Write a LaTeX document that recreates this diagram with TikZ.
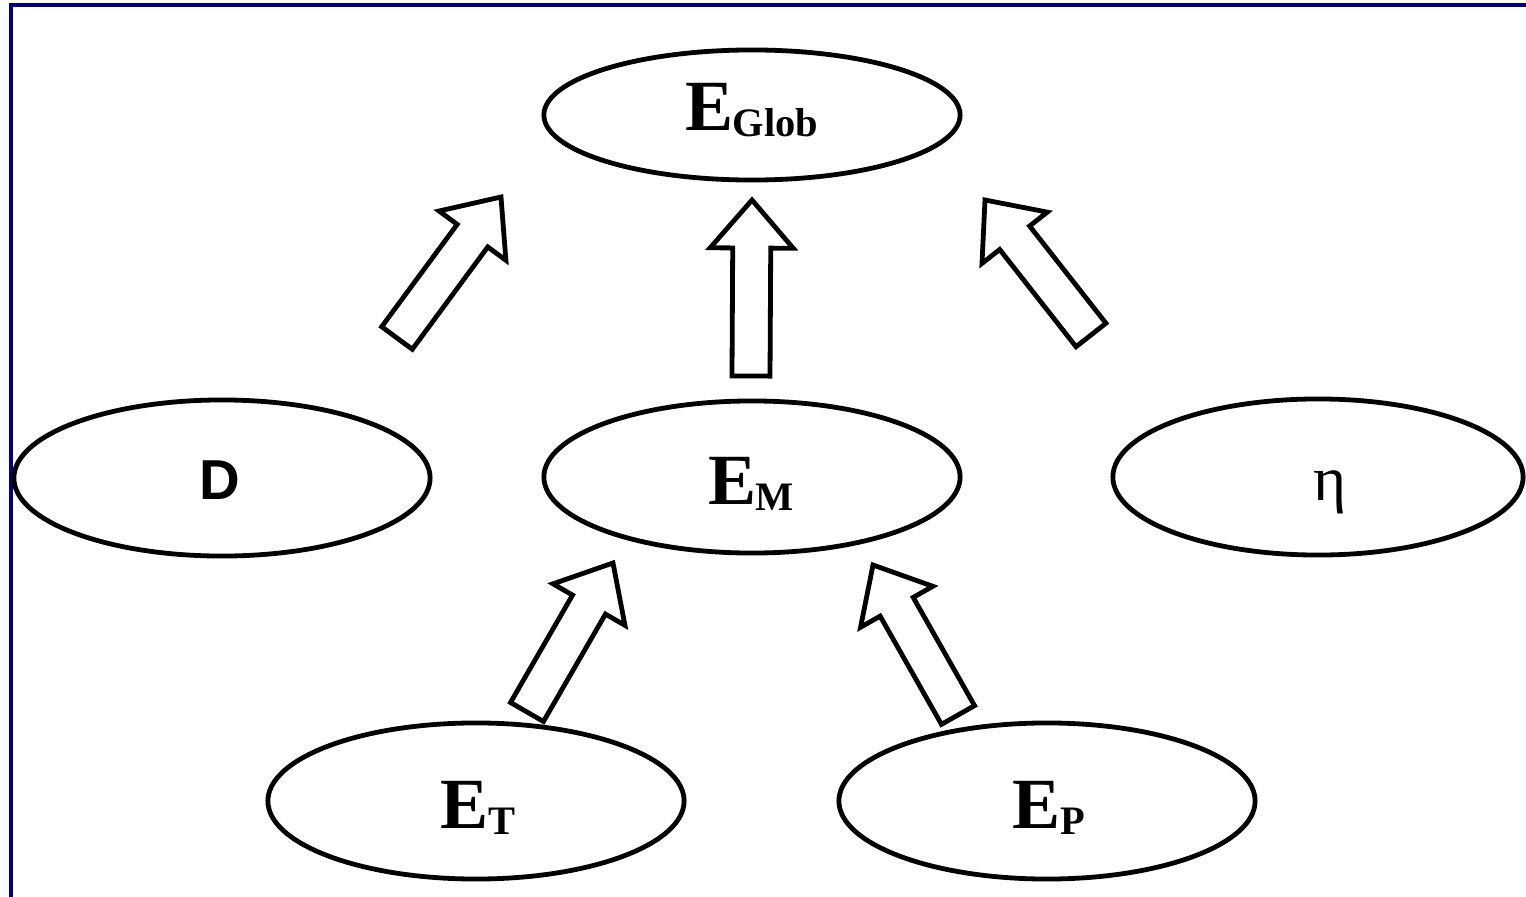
\documentclass[tikz,border=0pt]{standalone}
\usepackage{fontspec}
\setmainfont{Liberation Serif}
\newfontfamily\sansf{Liberation Sans}
\usetikzlibrary{shapes.geometric,calc}
\definecolor{framenavy}{RGB}{0,0,128}
\newcommand\ESub[1]{E\kern-0.01em\raisebox{-1.8pt}{\fontsize{11.5}{12}\selectfont #1}}
\newcommand\blockarrow[2]{%
  \coordinate (nk) at ($(#2)!0.48cm!(#1)$);
  \draw[blockarr] ($(#1)!0.19cm!90:(#2)$) -- ($(nk)!0.19cm!90:(#2)$) -- ($(nk)!0.415cm!90:(#2)$) -- (#2)
    -- ($(nk)!0.415cm!-90:(#2)$) -- ($(nk)!0.19cm!-90:(#2)$) -- ($(#1)!0.19cm!-90:(#2)$) -- cycle;}
\tikzset{
  oval/.style={draw=black, line width=0.048cm, ellipse, inner sep=0pt,
    minimum width=4.16cm, minimum height=1.56cm},
  lbl/.style={font=\bfseries\fontsize{20.5}{22}\selectfont, inner sep=0pt},
  blockarr/.style={draw=black, fill=white, line width=0.048cm, line join=miter},
  framel/.style={draw=framenavy, line width=0.035cm}
}
\begin{document}
\begin{tikzpicture}[x=0.01cm,y=-0.01cm]
\useasboundingbox (0,0) rectangle (1526,897);
\fill[white] (0,0) rectangle (1526,897);
\coordinate (fa) at (11,897);
\coordinate (fb) at (11,5);
\coordinate (fc) at (1526,5);
\draw[framel] (fa) -- (fb) -- (fc);
% ellipses
\node[oval, minimum height=1.30cm] (glob) at (752,115) {};
\node[oval] (d) at (222,478) {};
\node[oval, minimum height=1.52cm] (em) at (752,477) {};
\node[oval, minimum width=4.10cm] (eta) at (1318,477) {};
\node[oval] (et) at (476,801) {};
\node[oval] (ep) at (1047,801) {};
% labels
\node[lbl] (tglob) at (752,110) {\ESub{Glob}};
\node[lbl] (tem) at (751,484) {\ESub{M}};
\node[lbl] (tet) at (478,808) {\ESub{T}};
\node[lbl] (tep) at (1049,808) {\ESub{P}};
\node[inner sep=0pt, font=\sansf\bfseries\fontsize{16}{18}\selectfont] (td) at (220,480) {D};
\node[inner sep=0pt, font=\fontsize{18}{20}\selectfont] (teta) at (1330,492) {η};
% block arrows
\coordinate (a1t) at (397,338); \coordinate (a1p) at (501,197);
\coordinate (a2t) at (751,376); \coordinate (a2p) at (752,200);
\coordinate (a3t) at (1091,335); \coordinate (a3p) at (985,200);
\coordinate (a4t) at (527,712); \coordinate (a4p) at (613,563);
\coordinate (a5t) at (958,715); \coordinate (a5p) at (873,565);
\blockarrow{a1t}{a1p}
\blockarrow{a2t}{a2p}
\blockarrow{a3t}{a3p}
\blockarrow{a4t}{a4p}
\blockarrow{a5t}{a5p}
\end{tikzpicture}
\end{document}
